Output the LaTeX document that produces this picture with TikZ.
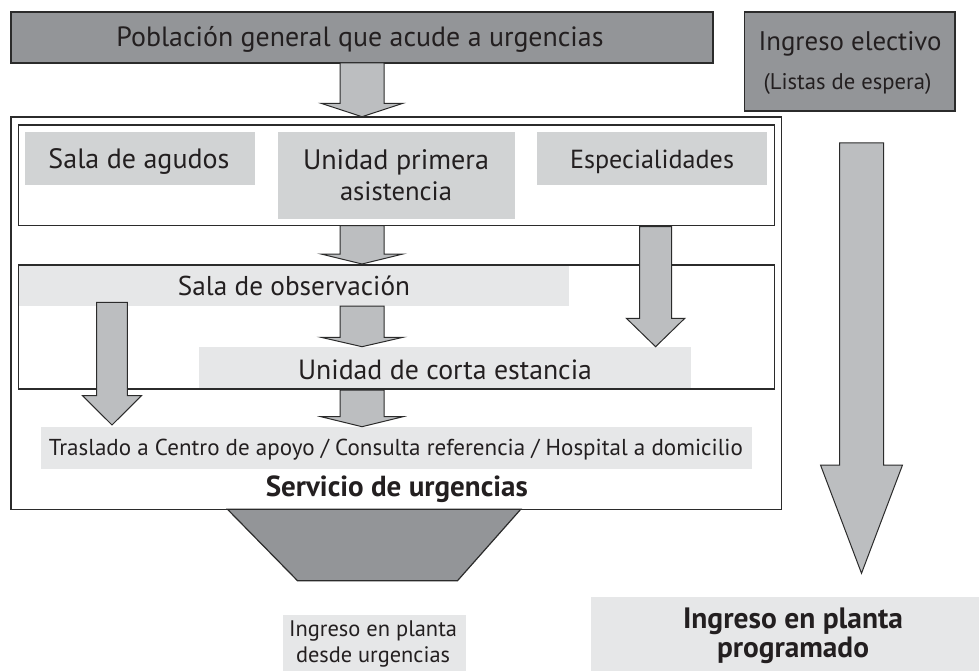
\documentclass[tikz,border=0pt]{standalone}
\usepackage{fontspec}
\setmainfont{PT Sans}
\usetikzlibrary{fit}
\definecolor{dkgray}{HTML}{939598}
\definecolor{argray}{HTML}{BCBEC0}
\definecolor{midgray}{HTML}{D1D3D4}
\definecolor{ltgray}{HTML}{E6E7E8}
\definecolor{ink}{HTML}{231F20}
\definecolor{linec}{HTML}{2B2B2B}
% set a text at a given width (real text, scaled uniformly)
\newcommand\fitw[2]{\resizebox{#1pt}{!}{\fontsize{24}{28}\selectfont #2}}
\newcommand\fitb[2]{\resizebox{#1pt}{!}{\fontsize{24}{28}\selectfont\bfseries #2}}
\newcommand\blockarrow[6]{% cx, top, flare, tip, shaft half, head half
  \draw[blockarr] (#1-#5,#2) -- (#1-#5,#3) -- (#1-#6,#3) -- (#1,#4) -- (#1+#6,#3) -- (#1+#5,#3) -- (#1+#5,#2) -- cycle;}
\tikzset{
  frame/.style={draw=linec, line width=1.2pt, inner sep=0pt},
  darkbox/.style={draw=linec, line width=1.2pt, fill=dkgray, inner sep=0pt},
  midbox/.style={fill=midgray, inner sep=0pt},
  ltbox/.style={fill=ltgray, inner sep=0pt},
  blockarr/.style={draw=linec, line width=1pt, fill=argray, line join=miter},
  lbl/.style={anchor=base, inner sep=0pt, text=ink},
}
\begin{document}
\begin{tikzpicture}[x=1pt,y=-1pt]
\useasboundingbox (0,0) rectangle (979,671);
% outer frame
\node[frame, fit={(11,117)(781.7,509.3)}] (serv) {};
% light boxes
\node[midbox, fit={(25,132.3)(255,185)}] (agudos) {};
\node[midbox, fit={(278.3,132.3)(515,218.5)}] (upa) {};
\node[midbox, fit={(537.3,132.3)(767,185)}] (espec) {};
\node[ltbox, fit={(19,265)(569,305.7)}] (obs) {};
\node[ltbox, fit={(199.3,347.3)(691,389)}] (corta) {};
\node[ltbox, fit={(41,427.3)(751.7,469)}] (trasl) {};
\node[ltbox, fit={(282.5,614.5)(465.5,671)}] (desde) {};
\node[ltbox, fit={(591,596.7)(979,671)}] (progr) {};
% inner frames
\node[frame, fit={(18.5,125)(774.5,225.7)}] (in1) {};
\node[frame, fit={(18.5,265)(774.5,389)}] (in2) {};
% dark boxes
\node[darkbox, fit={(11,12)(713,63)}] (pob) {};
\node[darkbox, fit={(744.5,12)(955,111)}] (elect) {};
% trapezoid
\draw[darkbox] (227.5,509.3) -- (520.7,509.3) -- (457.5,580.7) -- (297.5,580.7) -- cycle;
% block arrows
\blockarrow{362}{63}{103.3}{116.7}{22}{41}
\blockarrow{362}{225.7}{254}{264}{22}{41}
\blockarrow{362}{306}{337.3}{346.7}{22}{41}
\blockarrow{362}{390}{416.7}{426.7}{22}{41}
\blockarrow{655.6}{226.7}{318.3}{346.7}{16}{29.2}
\blockarrow{112}{302.3}{395.7}{425}{15.3}{29.5}
\blockarrow{861.5}{143}{465}{573.3}{22}{41}
% labels
\node[lbl] (pobt) at (360,47) {\fitw{487}{Población general que acude a urgencias}};
\node[lbl] (electt) at (850,50.7) {\fitw{183}{Ingreso electivo}};
\node[lbl] (listas) at (847.5,89.3) {\fitw{168}{(Listas de espera)}};
\node[lbl] (agudost) at (139,169) {\fitw{181}{Sala de agudos}};
\node[lbl] (upat1) at (396,169) {\fitw{186}{Unidad primera}};
\node[lbl] (upat2) at (396,200.5) {\fitw{112}{asistencia}};
\node[lbl] (espect) at (652,168) {\fitw{164}{Especialidades}};
\node[lbl] (obst) at (294,295) {\fitw{232}{Sala de observación}};
\node[lbl] (cortat) at (445,379) {\fitw{294}{Unidad de corta estancia}};
\node[lbl] (traslt) at (396,455.5) {\fitw{694}{Traslado a Centro de apoyo / Consulta referencia / Hospital a domicilio}};
\node[lbl] (servt) at (396.8,496) {\fitb{262}{Servicio de urgencias}};
\node[lbl] (desdet1) at (373,636.7) {\fitw{168}{Ingreso en planta}};
\node[lbl] (desdet2) at (373,662.5) {\fitw{154}{desde urgencias}};
\node[lbl] (progrt1) at (793,628) {\fitb{220}{Ingreso en planta}};
\node[lbl] (progrt2) at (793,657) {\fitb{152}{programado}};
\end{tikzpicture}
\end{document}
